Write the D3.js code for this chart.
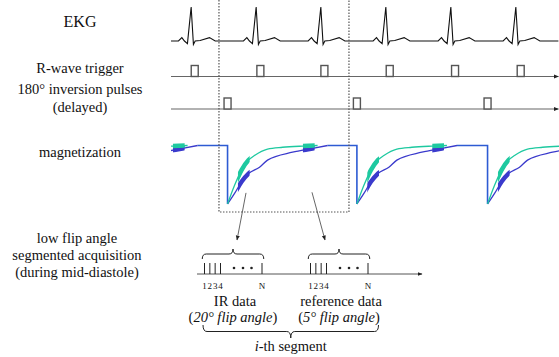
<!DOCTYPE html>
<meta charset="utf-8">
<head>
<style>
body { margin: 0; background: #fff; }
</style>
</head>
<body>
<script src="https://d3js.org/d3.v7.min.js"></script>
<script>
var width = 559, height = 357;
var serif = "'Liberation Serif', 'DejaVu Serif', serif";

// time in ms along the top rows, one heartbeat is about 1000 ms
var rPeaks = [310, 1310, 2305, 3305, 4305, 5305];
var triggers = [365, 1375, 2360, 3365, 4370, 5380];
var inversions = [-1130, 870, 2860, 4870];   // first one lies before the drawn window
// one heartbeat: [ms from R peak, relative amplitude]
var ekgBeat = [[-195,0],[-143,0.1],[-103,0],[-57,-0.075],[0,1],[35,-0.1],[62,0],[138,0.015],[282,0.1],[370,0]];
// recovery after inversion: [ms after inversion, fraction of inversion depth]
var tealRecovery = [[0,1],[108,0.68],[215,0.42],[323,0.25],[415,0.17],[615,0.06],[846,0.03],[1154,0.01],[1385,0]];
var blueRecovery = [[0,1],[108,0.82],[215,0.62],[323,0.48],[492,0.37],[615,0.25],[1000,0.115],[1308,0.05],[1540,0]];
var acqWindows = [[160, 340], [1160, 1340]];   // ms after inversion
var segmentBox = [738, 2738];

// acquisition readouts (bottom time line, arbitrary units)
var blockStarts = [1.5, 22.7];
var readoutTicks = [0, 1.07, 2.13, 3.2];
var readoutLabels = ["1", "2", "3", "4"];
var readoutDots = [5.9, 7.7, 9.4];
var readoutN = 11.5;
var blockNames = ["IR data", "reference data"];
var flipAngles = ["20° flip angle", "5° flip angle"];
var segmentSpan = [1.2, 36.3];
var arrowFrom = [[1154, 0.81], [2169, 0.8]];
var arrowTo = [8.0, 25.6];

var rowLabels = [
  {lines: ["EKG"], y: 27, size: 16},
  {lines: ["R-wave trigger"], y: 72.5, size: 14.5},
  {lines: ["180° inversion pulses", "(delayed)"], y: 93.5, size: 14.5},
  {lines: ["magnetization"], y: 157, size: 14.5}
];
var acqLabel = ["low flip angle", "segmented acquisition", "(during mid-diastole)"];

var x = d3.scaleLinear().domain([0, 6000]).range([171, 561]);
var ekgY = d3.scaleLinear().domain([0, 1]).range([41, 7]);
var magY = d3.scaleLinear().domain([0, 1]).range([145.5, 204]);
var acqX = d3.scaleLinear().domain([0, 45]).range([197, 422]);
var trigY = 76.5, invY = 109, acqY = 274;

var svg = d3.select("body").append("svg")
    .attr("width", width)
    .attr("height", height)
    .style("font-family", serif);

var defs = svg.append("defs");
defs.append("marker").attr("id", "arr")
    .attr("viewBox", "0 0 10 10").attr("refX", 9).attr("refY", 5)
    .attr("markerWidth", 5).attr("markerHeight", 5)
    .attr("markerUnits", "userSpaceOnUse").attr("orient", "auto")
  .append("path").attr("d", "M0,1L10,5L0,9Z").attr("fill", "#222");
defs.append("clipPath").attr("id", "plotClip")
  .append("rect").attr("x", x(0)).attr("y", 0).attr("width", width - x(0)).attr("height", height);

function label(sel) {
  return sel.attr("font-family", serif).style("font-family", serif).attr("fill", "#111");
}

// labels on the left
rowLabels.forEach(function(r) {
  r.lines.forEach(function(l, i) {
    label(svg.append("text")).attr("x", 80).attr("y", r.y + i * 18)
      .attr("text-anchor", "middle").style("font-size", r.size + "px").text(l);
  });
});
acqLabel.forEach(function(l, i) {
  label(svg.append("text")).attr("x", 77).attr("y", 243 + i * 17)
    .attr("text-anchor", "middle").style("font-size", "14.5px").text(l);
});

// EKG
var ekgPts = [[0, 0]];
rPeaks.forEach(function(r) {
  ekgBeat.forEach(function(p) { ekgPts.push([r + p[0], p[1]]); });
});
ekgPts.push([5960, 0]);
svg.append("path")
    .attr("d", d3.line().x(function(d) { return x(d[0]); }).y(function(d) { return ekgY(d[1]); })(ekgPts))
    .attr("fill", "none").attr("stroke", "#111").attr("stroke-width", 1.1);

// trigger and inversion rows
[[trigY, triggers], [invY, inversions.filter(function(t) { return t > 0; })]].forEach(function(row) {
  svg.append("line").attr("x1", x(0)).attr("x2", x(5960))
    .attr("y1", row[0]).attr("y2", row[0])
    .attr("stroke", "#666").attr("stroke-width", 1.1).attr("marker-end", "url(#arr)");
  svg.selectAll(null).data(row[1]).enter().append("rect")
    .attr("x", function(d) { return x(d) - 3.5; })
    .attr("y", row[0] - 11).attr("width", 7).attr("height", 11)
    .attr("fill", "#fff").attr("stroke", "#555").attr("stroke-width", 1.4);
});

// magnetization
var mag = svg.append("g").attr("clip-path", "url(#plotClip)");
var frameEnd = blueRecovery[blueRecovery.length - 1][0];
inversions.forEach(function(inv, i) {
  var start = i === 0 ? 0 : Math.max(0, inversions[i - 1] + frameEnd);
  if (inv < 0) return;
  mag.append("path")
    .attr("d", d3.line()([[x(start), magY(0)], [x(inv), magY(0)], [x(inv), magY(1)]]))
    .attr("fill", "none").attr("stroke", "#2d5bd3").attr("stroke-width", 1.6);
});
mag.append("line").attr("x1", x(inversions[inversions.length - 1] + frameEnd)).attr("x2", width)
  .attr("y1", magY(0)).attr("y2", magY(0)).attr("stroke", "#2d5bd3").attr("stroke-width", 1.6);

var curve = function(t0) {
  return d3.line().curve(d3.curveMonotoneX)
    .x(function(d) { return x(t0 + d[0]); }).y(function(d) { return magY(d[1]); });
};
var ci = 0;
[[blueRecovery, "#3a3acc"], [tealRecovery, "#1ec9a0"]].forEach(function(s) {
  inversions.forEach(function(inv) {
    mag.append("path").attr("d", curve(inv)(s[0]))
      .attr("fill", "none").attr("stroke", s[1]).attr("stroke-width", 1.3);
    acqWindows.forEach(function(w) {
      var id = "w" + (ci++);
      defs.append("clipPath").attr("id", id).append("rect")
        .attr("x", x(inv + w[0])).attr("width", x(inv + w[1]) - x(inv + w[0]))
        .attr("y", 100).attr("height", 120);
      mag.append("g").attr("clip-path", "url(#" + id + ")")
        .append("path").attr("d", curve(inv)(s[0]))
        .attr("fill", "none").attr("stroke", s[1]).attr("stroke-width", 4.5);
    });
  });
});

// dotted box around one segment
svg.append("path")
    .attr("d", "M" + x(segmentBox[0]) + ",0V212H" + x(segmentBox[1]) + "V0")
    .attr("fill", "none").attr("stroke", "#555").attr("stroke-width", 1.2)
    .attr("stroke-dasharray", "1.5,1.5");

// arrows to the acquisition blocks
arrowFrom.forEach(function(a, i) {
  svg.append("line").attr("x1", x(a[0])).attr("y1", magY(a[1]))
    .attr("x2", acqX(arrowTo[i])).attr("y2", 240)
    .attr("stroke", "#555").attr("stroke-width", 0.9).attr("marker-end", "url(#arr)");
});

// acquisition time line
svg.append("line").attr("x1", acqX(0)).attr("x2", acqX(45))
  .attr("y1", acqY).attr("y2", acqY)
  .attr("stroke", "#555").attr("stroke-width", 1).attr("marker-end", "url(#arr)");

function brace(x0, x1, y, h) {
  var xm = (x0 + x1) / 2, ym = y + h / 2, yt = y + h, r = 4;
  return "M" + x0 + "," + y + "Q" + x0 + "," + ym + " " + (x0 + r) + "," + ym +
    "L" + (xm - r) + "," + ym + "Q" + xm + "," + ym + " " + xm + "," + yt +
    "Q" + xm + "," + ym + " " + (xm + r) + "," + ym +
    "L" + (x1 - r) + "," + ym + "Q" + x1 + "," + ym + " " + x1 + "," + y;
}

blockStarts.forEach(function(b, k) {
  var g = svg.append("g");
  g.selectAll("line").data(readoutTicks.concat([readoutN])).enter().append("line")
    .attr("x1", function(d) { return acqX(b + d); }).attr("x2", function(d) { return acqX(b + d); })
    .attr("y1", acqY - 11).attr("y2", acqY)
    .attr("stroke", "#222").attr("stroke-width", 1);
  g.selectAll("circle").data(readoutDots).enter().append("circle")
    .attr("cx", function(d) { return acqX(b + d); }).attr("cy", acqY - 6).attr("r", 1.3)
    .attr("fill", "#222");
  label(g.selectAll("text.n").data(readoutLabels.concat(["N"])).enter().append("text"))
    .attr("x", function(d, i) { return acqX(b + (i < 4 ? readoutTicks[i] : readoutN)); })
    .attr("y", 289).attr("text-anchor", "middle").style("font-size", "9px")
    .text(function(d) { return d; });
  var x0 = acqX(b - 0.45), x1 = acqX(b + readoutN + 0.35);
  g.append("path").attr("d", brace(x0, x1, 259, -10))
    .attr("fill", "none").attr("stroke", "#222").attr("stroke-width", 1);
  var cx = (x0 + x1) / 2;
  label(g.append("text")).attr("x", cx + 2).attr("y", 306).attr("text-anchor", "middle")
    .style("font-size", "14.5px").text(blockNames[k]);
  var t = label(g.append("text")).attr("x", cx).attr("y", 322).attr("text-anchor", "middle")
    .style("font-size", "14.5px");
  t.append("tspan").text("(");
  t.append("tspan").style("font-style", "italic").text(flipAngles[k]);
  t.append("tspan").text(")");
});

svg.append("path")
    .attr("d", brace(acqX(segmentSpan[0]), acqX(segmentSpan[1]), 325, 13))
    .attr("fill", "none").attr("stroke", "#222").attr("stroke-width", 1);
var seg = label(svg.append("text")).attr("x", (acqX(segmentSpan[0]) + acqX(segmentSpan[1])) / 2).attr("y", 351)
    .attr("text-anchor", "middle").style("font-size", "14.5px");
seg.append("tspan").style("font-style", "italic").text("i");
seg.append("tspan").text("-th segment");
</script>
</body>
